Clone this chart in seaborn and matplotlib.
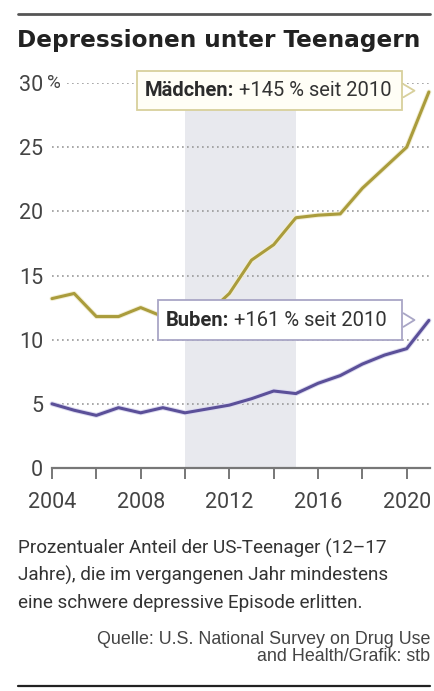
import matplotlib
matplotlib.use("Agg")
import matplotlib.pyplot as plt
import matplotlib.patheffects as pe
from matplotlib.patches import Rectangle
from matplotlib.lines import Line2D
import seaborn as sns
import pandas as pd

years = list(range(2004, 2022))
girls = [13.2, 13.6, 11.8, 11.8, 12.5, 11.8, 11.5, 12.0, 13.6, 16.2, 17.4, 19.5, 19.7, 19.8, 21.8, 23.4, 25.0, 29.3]
boys = [5.0, 4.5, 4.1, 4.7, 4.3, 4.7, 4.3, 4.6, 4.9, 5.4, 6.0, 5.8, 6.6, 7.2, 8.1, 8.8, 9.3, 11.5]
series_names = ["Mädchen", "Buben"]
y_ticks = [0, 5, 10, 15, 20, 25, 30]
x_label_years = [2004, 2008, 2012, 2016, 2020]
shade_span = (2010, 2015)

GIRL_C = "#aa9c3c"
BOY_C = "#5b5099"
NARROW = ["Roboto", "DejaVu Sans"]

sns.set_theme(style="white")
plt.rcParams["font.family"] = ["Roboto", "DejaVu Sans"]

df = pd.DataFrame({
    "Jahr": years * 2,
    "Anteil": girls + boys,
    "Gruppe": [series_names[0]] * len(years) + [series_names[1]] * len(years),
})

fig = plt.figure(figsize=(4.35, 6.91), dpi=100)
ax = fig.add_axes([52 / 435, 1 - 468 / 691, 378 / 435, 385 / 691])

ax.axvspan(*shade_span, color="#e8e9ee", zorder=0, lw=0)

for v in y_ticks[1:]:
    ax.axhline(v, color="#999999", lw=1.2, ls=(0, (1, 2)), zorder=1)

sns.lineplot(data=df, x="Jahr", y="Anteil", hue="Gruppe",
             palette={series_names[0]: GIRL_C, series_names[1]: BOY_C},
             lw=2.2, legend=False, ax=ax, zorder=3)
for ln in ax.get_lines()[-2:]:
    halo = "#f3efd6" if ln.get_color() == GIRL_C else "#dddbf0"
    ln.set_path_effects([pe.Stroke(linewidth=3.6, foreground=halo), pe.Normal()])
    ln.set_clip_on(False)

ax.set_xlim(2004, 2021.05)
ax.set_ylim(0, 30)
for s in ["top", "right", "left"]:
    ax.spines[s].set_visible(False)
ax.spines["bottom"].set_color("#777777")
ax.spines["bottom"].set_linewidth(1.6)

ax.set_xticks(list(range(2004, 2022, 2)))
ax.set_xticklabels([str(y) if y in x_label_years else "" for y in range(2004, 2022, 2)])
ax.tick_params(axis="x", direction="out", length=8, width=1.4, color="#777777",
               labelsize=15.5, labelcolor="#444444", pad=9, bottom=True)
ax.set_yticks(y_ticks)
ax.set_yticklabels([str(v) for v in y_ticks])
ax.tick_params(axis="y", length=0, labelsize=15.5, labelcolor="#444444", pad=6.5)
for lab in ax.get_xticklabels() + ax.get_yticklabels():
    lab.set_family(NARROW)
ax.text(-0.012, 30, "%", transform=ax.get_yaxis_transform(), ha="left", va="center",
        fontsize=13.5, color="#444444", family=NARROW,
        bbox=dict(boxstyle="square,pad=0.3", fc="white", ec="none"))
ax.set_xlabel("")
ax.set_ylabel("")


def label_box(x0, x1, y0, y1, ytext, bold, rest, ec, fc, tip_x):
    ax.add_patch(Rectangle((x0, y0), x1 - x0, y1 - y0, fc=fc, ec=ec, lw=1.3,
                           zorder=5, clip_on=False))
    ym = (y0 + y1) / 2
    dy = (y1 - y0) * 0.17
    ax.add_line(Line2D([x1 + 0.05, tip_x, x1 + 0.05], [ym + dy, ym, ym - dy], color=ec,
                       lw=1.3, zorder=5, clip_on=False))
    t1 = ax.text(x0 + 0.36, ytext, bold, ha="left", va="center", fontsize=14.5,
                 fontweight="bold", color="#2b2b2b", family=NARROW, zorder=6)
    ax.annotate(" " + rest, xy=(1, 0.5), xycoords=t1, ha="left", va="center",
                fontsize=14.5, color="#333333", family=NARROW, zorder=6)


label_box(2007.82, 2019.8, 27.9, 30.9, 29.4, "Mädchen:", "+145 % seit 2010",
          "#d8d09c", "#fffef6", 2020.35)
label_box(2008.77, 2019.8, 9.97, 13.09, 11.53, "Buben:", "+161 % seit 2010",
          "#a9a6c6", "#ffffff", 2020.35)

# header
fig.add_artist(Line2D([18 / 435, 430 / 435], [1 - 14 / 691] * 2, color="#555555", lw=2.0))
fig.text(17 / 435, 1 - 41 / 691, "Depressionen unter Teenagern", ha="left", va="center",
         fontsize=16.7, fontweight="bold", color="#222222", family=["DejaVu Sans"])

caption = ["Prozentualer Anteil der US-Teenager (12–17",
           "Jahre), die im vergangenen Jahr mindestens",
           "eine schwere depressive Episode erlitten."]
for i, line in enumerate(caption):
    fig.text(18 / 435, 1 - (548 + 27.5 * i) / 691, line, ha="left", va="center",
             fontsize=13.6, color="#333333", family=NARROW)

source = ["Quelle: U.S. National Survey on Drug Use", "and Health/Grafik: stb"]
for i, line in enumerate(source):
    fig.text(430 / 435, 1 - (639 + 17.5 * i) / 691, line, ha="right", va="center",
             fontsize=12.9, color="#444444", family=["Liberation Sans", "DejaVu Sans"])
fig.add_artist(Line2D([18 / 435, 430 / 435], [1 - 686 / 691] * 2, color="#222222", lw=1.6))

fig.savefig("out.png", dpi=100)
